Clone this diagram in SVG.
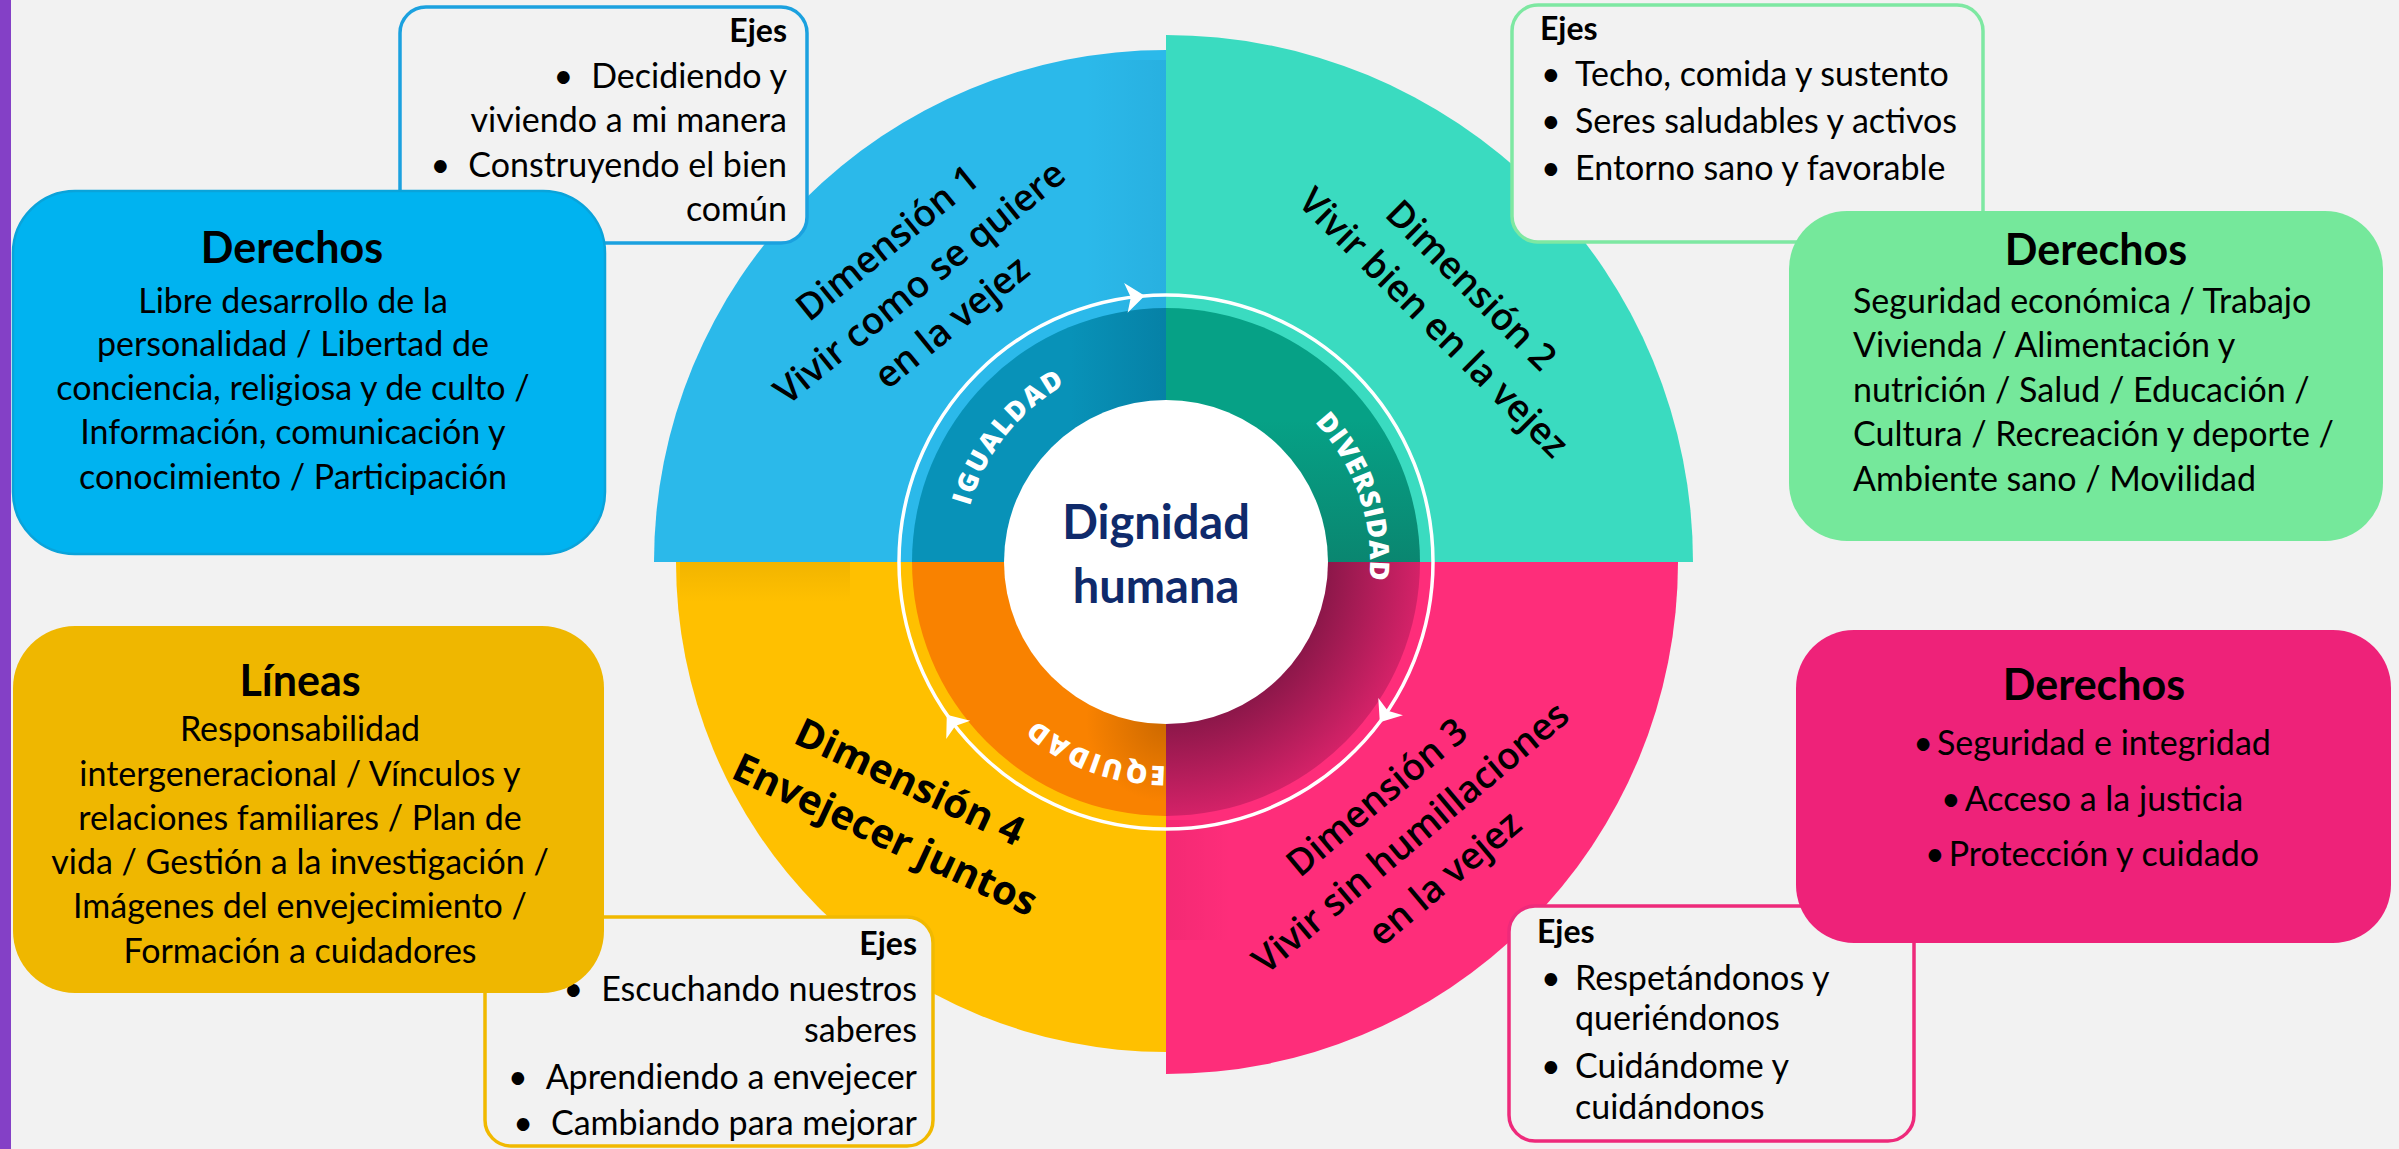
<svg xmlns="http://www.w3.org/2000/svg" width="2399" height="1149" viewBox="0 0 2399 1149">
<style>
.t{font-family:Lato,"Open Sans","Liberation Sans",sans-serif;font-size:34px;fill:#000}
.hd{font-family:Lato,"Open Sans","Liberation Sans",sans-serif;font-size:43px;font-weight:700;fill:#000;text-anchor:middle}
.ej{font-family:Lato,"Open Sans","Liberation Sans",sans-serif;font-size:32px;font-weight:700;fill:#000}
.mid{text-anchor:middle}
.end{text-anchor:end}
.dim{font-family:"Open Sans","Liberation Sans",sans-serif;font-size:37px;font-weight:600;fill:#000;text-anchor:middle}
.dim4{font-family:"Open Sans","Liberation Sans",sans-serif;font-size:40px;font-weight:700;fill:#000;text-anchor:middle}
.ring{font-family:"Open Sans","Liberation Sans",sans-serif;font-size:27px;font-weight:800;fill:#fff;text-anchor:middle}
.ejbox{fill:#F2F2F2;stroke-width:3.5}
.ctr{font-family:Lato,"Open Sans","Liberation Sans",sans-serif;font-size:47px;font-weight:700;fill:#0F2A6B;text-anchor:middle}
</style>
<defs>
<path id="ringpath" d="M962,562 A204,204 0 1,1 1370,562 A204,204 0 1,1 962,562"/>
<polygon id="arrowhead" points="10,0 -9,-15 -4,0 -9,15" fill="#fff"/>
<linearGradient id="g1band" x1="1070" y1="0" x2="1166" y2="0" gradientUnits="userSpaceOnUse"><stop offset="0" stop-color="#0892B8"/><stop offset="1" stop-color="#0681A6"/></linearGradient>
<linearGradient id="g2band" x1="0" y1="420" x2="0" y2="562" gradientUnits="userSpaceOnUse"><stop offset="0" stop-color="#06A186"/><stop offset="1" stop-color="#0A8670"/></linearGradient>
<radialGradient id="g3band" cx="1166" cy="562" r="254" gradientUnits="userSpaceOnUse"><stop offset="0.63" stop-color="#8B1749"/><stop offset="1" stop-color="#D42268"/></radialGradient>
<radialGradient id="g4shadow" cx="1166" cy="722" r="80" gradientUnits="userSpaceOnUse"><stop offset="0" stop-color="#A85400" stop-opacity="0.55"/><stop offset="1" stop-color="#A85400" stop-opacity="0"/></radialGradient>
<linearGradient id="s1" x1="1086" y1="0" x2="1166" y2="0" gradientUnits="userSpaceOnUse"><stop offset="0" stop-color="#003A5A" stop-opacity="0"/><stop offset="1" stop-color="#003A5A" stop-opacity="0.07"/></linearGradient>
<linearGradient id="s3" x1="1166" y1="0" x2="1231" y2="0" gradientUnits="userSpaceOnUse"><stop offset="0" stop-color="#780028" stop-opacity="0.08"/><stop offset="1" stop-color="#780028" stop-opacity="0"/></linearGradient>
<linearGradient id="s4" x1="0" y1="562" x2="0" y2="602" gradientUnits="userSpaceOnUse"><stop offset="0" stop-color="#A06E00" stop-opacity="0.14"/><stop offset="1" stop-color="#A06E00" stop-opacity="0"/></linearGradient>
</defs>

<rect x="0" y="0" width="2399" height="1149" fill="#F2F2F2"/>
<rect x="0" y="0" width="11" height="1149" fill="#8440C6"/>

<g id="dimension-1">
<path d="M1166,562 L654,562 A512,512 0 0,1 1166,50 Z" fill="#2BB9EA"/>
<rect x="1086" y="60" width="80" height="250" fill="url(#s1)"/>
<path d="M1166,562 L912,562 A254,254 0 0,1 1166,308 Z" fill="url(#g1band)"/>
<g transform="translate(920,283) rotate(-39)">
<text class="dim" x="0" y="-39">Dimensión 1</text>
<text class="dim" x="0" y="12">Vivir como se quiere</text>
<text class="dim" x="0" y="63">en la vejez</text>
</g>
</g>

<g id="dimension-2">
<path d="M1166,562 L1166,35 A527,527 0 0,1 1693,562 Z" fill="#3ADBC0"/>
<path d="M1166,562 L1166,308 A254,254 0 0,1 1420,562 Z" fill="url(#g2band)"/>
<g transform="translate(1452,304.5) rotate(45)">
<text class="dim" x="0" y="-14.5">Dimensión 2</text>
<text class="dim" x="0" y="38.5">Vivir bien en la vejez</text>
</g>
</g>

<g id="dimension-3">
<path d="M1166,562 L1678,562 A512,512 0 0,1 1166,1074 Z" fill="#FE2D7A"/>
<rect x="1166" y="820" width="65" height="120" fill="url(#s3)"/>
<path d="M1166,562 L1420,562 A254,254 0 0,1 1166,816 Z" fill="url(#g3band)"/>
<g transform="translate(1411,838) rotate(-40)">
<text class="dim" x="0" y="-40.5">Dimensión 3</text>
<text class="dim" x="0" y="12">Vivir sin humillaciones</text>
<text class="dim" x="0" y="65">en la vejez</text>
</g>
</g>

<g id="dimension-4">
<path d="M1166,562 L1166,1052 A490,490 0 0,1 676,562 Z" fill="#FFC000"/>
<rect x="680" y="562" width="170" height="40" fill="url(#s4)"/>
<path d="M1166,562 L1166,816 A254,254 0 0,1 912,562 Z" fill="#F98200"/>
<rect x="1086" y="642" width="80" height="160" fill="url(#g4shadow)"/>
<g transform="translate(897,809) rotate(25)">
<text class="dim4" x="0" y="-16">Dimensión 4</text>
<text class="dim4" x="0" y="42">Envejecer juntos</text>
</g>
</g>

<g id="ring-labels">
<text class="ring" style="letter-spacing:2px"><textPath href="#ringpath" startOffset="136.7">IGUALDAD</textPath></text>
<text class="ring" style="letter-spacing:0.8px"><textPath href="#ringpath" startOffset="573.2">DIVERSIDAD</textPath></text>
<text class="ring" style="letter-spacing:2.5px"><textPath href="#ringpath" startOffset="1032.5">EQUIDAD</textPath></text>
</g>

<g id="connectors">
<circle cx="1166" cy="562" r="267" fill="none" stroke="#fff" stroke-width="3.5"/>
<use href="#arrowhead" transform="translate(1134.8,296.8) rotate(-6.7)"/>
<use href="#arrowhead" transform="translate(1385.5,714) rotate(124.7)"/>
<use href="#arrowhead" transform="translate(952.8,722.7) rotate(233)"/>
</g>

<g id="center">
<circle cx="1166" cy="562" r="162" fill="#fff"/>
<text class="ctr" x="1156" y="539">Dignidad</text>
<text class="ctr" x="1156" y="603">humana</text>
</g>

<g id="ejes-1">
<rect class="ejbox" x="400" y="7" width="407" height="236" rx="26" stroke="#1BA1DF"/>
<text class="ej end" x="787" y="42">Ejes</text>
<text class="t end" x="787" y="88"><tspan>•</tspan><tspan dx="18">Decidiendo y</tspan></text>
<text class="t end" x="787" y="132">viviendo a mi manera</text>
<text class="t end" x="787" y="177"><tspan>•</tspan><tspan dx="18">Construyendo el bien</tspan></text>
<text class="t end" x="787" y="221">común</text>
</g>

<g id="ejes-2">
<rect class="ejbox" x="1512" y="5" width="471" height="237" rx="26" stroke="#7EE8A2"/>
<text class="ej" x="1540" y="40">Ejes</text>
<text class="t" x="1541" y="86">•</text><text class="t" x="1575" y="86">Techo, comida y sustento</text>
<text class="t" x="1541" y="133">•</text><text class="t" x="1575" y="133">Seres saludables y activos</text>
<text class="t" x="1541" y="180">•</text><text class="t" x="1575" y="180">Entorno sano y favorable</text>
</g>

<g id="ejes-4">
<rect class="ejbox" x="485" y="917" width="448" height="229" rx="26" stroke="#F1B900"/>
<text class="ej end" x="917" y="955">Ejes</text>
<text class="t end" x="917" y="1001"><tspan>•</tspan><tspan dx="18">Escuchando nuestros</tspan></text>
<text class="t end" x="917" y="1042">saberes</text>
<text class="t end" x="917" y="1089"><tspan>•</tspan><tspan dx="18">Aprendiendo a envejecer</tspan></text>
<text class="t end" x="917" y="1135"><tspan>•</tspan><tspan dx="18">Cambiando para mejorar</tspan></text>
</g>

<g id="ejes-3">
<rect class="ejbox" x="1509" y="906" width="405" height="235" rx="26" stroke="#EE2A7B"/>
<text class="ej" x="1537" y="943">Ejes</text>
<text class="t" x="1541" y="990">•</text><text class="t" x="1575" y="990">Respetándonos y</text>
<text class="t" x="1575" y="1030">queriéndonos</text>
<text class="t" x="1541" y="1078">•</text><text class="t" x="1575" y="1078">Cuidándome y</text>
<text class="t" x="1575" y="1119">cuidándonos</text>
</g>

<g id="derechos-1">
<rect x="13" y="191" width="592" height="363" rx="62" fill="#00B3F0" stroke="#0AA3DA" stroke-width="2.5"/>
<text class="hd" x="292" y="263">Derechos</text>
<text class="t mid" x="293" y="313">Libre desarrollo de la</text>
<text class="t mid" x="293" y="356">personalidad / Libertad de</text>
<text class="t mid" x="293" y="400">conciencia, religiosa y de culto /</text>
<text class="t mid" x="293" y="444">Información, comunicación y</text>
<text class="t mid" x="293" y="489">conocimiento / Participación</text>
</g>

<g id="derechos-2">
<rect x="1789" y="211" width="594" height="330" rx="58" fill="#75E89B"/>
<text class="hd" x="2096" y="265">Derechos</text>
<text class="t" x="1853" y="313">Seguridad económica / Trabajo</text>
<text class="t" x="1853" y="357">Vivienda / Alimentación y</text>
<text class="t" x="1853" y="402">nutrición / Salud / Educación /</text>
<text class="t" x="1853" y="446">Cultura / Recreación y deporte /</text>
<text class="t" x="1853" y="491">Ambiente sano / Movilidad</text>
</g>

<g id="lineas-4">
<rect x="13" y="626" width="591" height="367" rx="62" fill="#EFB700"/>
<text class="hd" x="300" y="696">Líneas</text>
<text class="t mid" x="300" y="741">Responsabilidad</text>
<text class="t mid" x="300" y="786">intergeneracional / Vínculos y</text>
<text class="t mid" x="300" y="830">relaciones familiares / Plan de</text>
<text class="t mid" x="300" y="874">vida / Gestión a la investigación /</text>
<text class="t mid" x="300" y="918">Imágenes del envejecimiento /</text>
<text class="t mid" x="300" y="963">Formación a cuidadores</text>
</g>

<g id="derechos-3">
<rect x="1796" y="630" width="595" height="313" rx="58" fill="#EE2279"/>
<text class="hd" x="2094" y="700">Derechos</text>
<text class="t mid" x="2092" y="755"><tspan>•</tspan><tspan dx="4">Seguridad e integridad</tspan></text>
<text class="t mid" x="2092" y="811"><tspan>•</tspan><tspan dx="4">Acceso a la justicia</tspan></text>
<text class="t mid" x="2092" y="866"><tspan>•</tspan><tspan dx="4">Protección y cuidado</tspan></text>
</g>
</svg>
